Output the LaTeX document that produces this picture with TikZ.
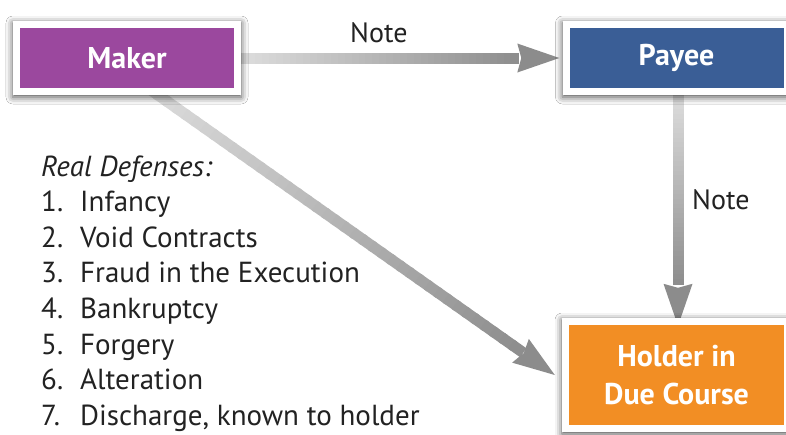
\documentclass[tikz,border=0pt]{standalone}
\usepackage{fontspec}
\setmainfont{PT Sans}
\usetikzlibrary{arrows.meta,shadows.blur,calc}
\definecolor{makerc}{HTML}{9B489E}
\definecolor{payeec}{HTML}{3A5E96}
\definecolor{holderc}{HTML}{F28E24}
\definecolor{textc}{HTML}{222222}
\definecolor{alight}{HTML}{DCDCDC}
\definecolor{adark}{HTML}{8C8C8C}
\pgfdeclarelayer{bg}
\pgfsetlayers{bg,main}
\tikzset{
  card/.style={fill=white, inner sep=0pt, align=center, text=white,
    font=\bfseries\fontsize{30}{38}\selectfont,
    blur shadow={shadow xshift=0pt, shadow yshift=-2pt, shadow blur radius=7pt, shadow opacity=70},
    path picture={\fill[#1] ([shift={(7pt,7pt)}]path picture bounding box.south west) rectangle ([shift={(-7pt,-7pt)}]path picture bounding box.north east);}},
  item/.style={anchor=base west, inner sep=0pt, text=textc, font=\fontsize{29}{36}\selectfont},
  lbl/.style={anchor=base west, inner sep=0pt, text=textc, font=\fontsize{28}{30}\selectfont}
}
% gradient connector: #1 start, #2 tip
\newcommand\gconn[2]{%
  \coordinate (gcA) at (#1);
  \coordinate (gcT) at (#2);
  \coordinate (gcB) at ($(gcT)!42pt!(gcA)$);
  \foreach \k in {0,...,39}{%
    \pgfmathtruncatemacro\pc{100-\k*2.5}%
    \draw[line width=11pt, draw=alight!\pc!adark] ($(gcA)!\k/40!(gcB)$) -- ($(gcA)!{(\k+1.3)/40}!(gcB)$);
  }%
  \fill[adark] (gcT) -- ($(gcB)!14.5pt!90:(gcT)$) -- ($(gcB)!4pt!(gcT)$) -- ($(gcB)!14.5pt!-90:(gcT)$) -- cycle;
}
\begin{document}
\begin{tikzpicture}[x=1pt,y=-1pt]
\useasboundingbox (0,0) rectangle (786,434);

\node[card=makerc, minimum width=228pt, minimum height=74pt] (maker) at (127,58) {Maker};
\node[card=payeec, minimum width=228pt, minimum height=74pt] (payee) at (676.5,58) {Payee};
\node[card=holderc, minimum width=229pt, minimum height=114pt] (holder) at (676.5,375) {Holder in\\Due Course};

\coordinate (d0) at ($(maker.south)+(20,-8)$);
\coordinate (v0) at ($(payee.south)+(1.5,0)$);
\coordinate (v1) at ($(holder.north)+(1.5,8)$);
\coordinate (h1) at ($(payee.west)+(-3,0)$);
\coordinate (d1) at ($(holder.west)+(-7,0)$);

\begin{pgfonlayer}{bg}
\fill[white] (0,0) rectangle (786,434);
\gconn{maker.east}{h1}
\gconn{v0}{v1}
\gconn{d0}{d1}
\end{pgfonlayer}

\node[lbl] (note1) at (350,42) {Note};
\node[lbl] (note2) at (692,209) {Note};

\node[item] (hdr) at (41,176) {\itshape Real Defenses:};
\foreach \n/\t [count=\i] in {1/Infancy, 2/Void Contracts, 3/Fraud in the Execution, 4/Bankruptcy, 5/Forgery, 6/Alteration, 7/{Discharge, known to holder}}{
  \node[item] (num\i) at (41,176+35.6*\i) {\n.};
  \node[item] (it\i) at (80,176+35.6*\i) {\t};
}
\end{tikzpicture}
\end{document}
